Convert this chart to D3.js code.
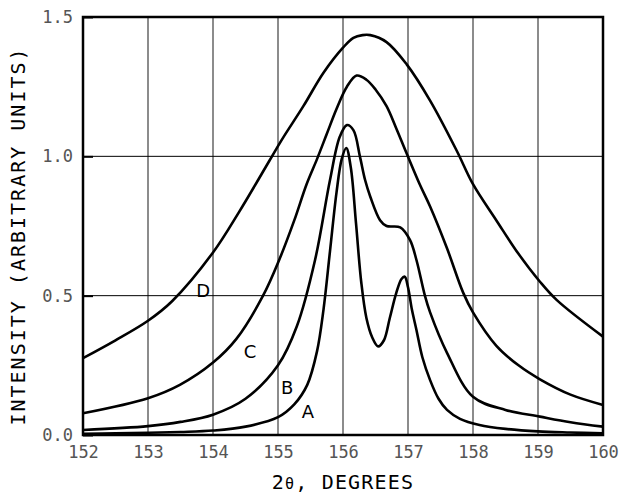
<!DOCTYPE html>
<html>
<head>
<meta charset="utf-8">
<script src="https://cdn.jsdelivr.net/npm/d3@7"></script>
<style>
  body { margin: 0; background: #fff; }
  svg { display: block; }
  .tick text { font-family: 'DejaVu Sans Mono', monospace; font-size: 17px; fill: #555; }
  .axis-title { font-family: 'DejaVu Sans Mono', monospace; font-size: 20px; fill: #000; }
  .curve-label { font-family: 'DejaVu Sans', sans-serif; font-size: 18px; fill: #000; }
</style>
</head>
<body>
<div id="chart"></div>
<script>
// 2-theta positions and intensities
const aX = [152, 152.5, 153, 153.5, 154, 154.5, 155, 155.25, 155.45, 155.6, 155.7, 155.8, 155.9, 155.98, 156.05, 156.12, 156.2, 156.28, 156.36, 156.45, 156.54, 156.63, 156.72, 156.82, 156.9, 156.95, 157.0, 157.06, 157.13, 157.22, 157.34, 157.47, 157.6, 157.8, 158.1, 158.5, 159, 159.5, 160];
const aY = [0.004, 0.006, 0.008, 0.011, 0.016, 0.03, 0.064, 0.11, 0.18, 0.3, 0.45, 0.66, 0.87, 0.99, 1.03, 0.96, 0.76, 0.55, 0.42, 0.35, 0.318, 0.34, 0.42, 0.51, 0.56, 0.568, 0.53, 0.45, 0.377, 0.28, 0.197, 0.13, 0.09, 0.058, 0.036, 0.022, 0.013, 0.009, 0.006];

const bX = [152, 153, 153.5, 154, 154.5, 155, 155.29, 155.57, 155.8, 155.95, 156.06, 156.16, 156.26, 156.34, 156.42, 156.57, 156.67, 156.88, 157.03, 157.13, 157.26, 157.34, 157.6, 158, 158.5, 159.03, 159.5, 160];
const bY = [0.018, 0.032, 0.047, 0.073, 0.13, 0.25, 0.39, 0.628, 0.915, 1.07, 1.112, 1.094, 1.0, 0.915, 0.855, 0.771, 0.75, 0.745, 0.7, 0.628, 0.5, 0.44, 0.295, 0.137, 0.09, 0.066, 0.046, 0.03];

const cX = [152, 153, 153.49, 154, 154.36, 154.77, 155.03, 155.25, 155.44, 155.6, 155.75, 155.9, 156.06, 156.21, 156.36, 156.5, 156.67, 156.82, 156.98, 157.18, 157.34, 157.6, 157.85, 158, 158.36, 158.7, 159.03, 159.5, 160];
const cY = [0.078, 0.132, 0.18, 0.26, 0.345, 0.5, 0.635, 0.77, 0.9, 0.99, 1.08, 1.17, 1.25, 1.29, 1.275, 1.24, 1.18, 1.1, 1.01, 0.9, 0.82, 0.67, 0.51, 0.44, 0.32, 0.25, 0.2, 0.145, 0.108];

const dX = [152, 152.5, 153, 153.37, 154, 154.4, 154.87, 155.06, 155.39, 155.7, 156.0, 156.16, 156.3, 156.42, 156.67, 156.98, 157.34, 157.75, 158.0, 158.36, 158.7, 159.03, 159.29, 160];
const dY = [0.276, 0.34, 0.41, 0.48, 0.655, 0.8, 0.985, 1.06, 1.18, 1.3, 1.39, 1.425, 1.435, 1.435, 1.41, 1.33, 1.2, 1.02, 0.9, 0.77, 0.65, 0.55, 0.484, 0.353];

const curveNames = ['A', 'B', 'C', 'D'];
const labelX = [155.46, 155.14, 154.57, 153.85];
const labelY = [0.083, 0.17, 0.3, 0.52];

const xTicks = [152, 153, 154, 155, 156, 157, 158, 159, 160];
const yTicks = [0, 0.5, 1.0, 1.5];

const width = 621;
const height = 495;

const xScale = d3.scaleLinear().domain([152, 160]).range([83, 603]);
const yScale = d3.scaleLinear().domain([0, 1.5]).range([435, 17]);

const svg = d3
  .select('#chart')
  .append('svg')
  .attr('width', width)
  .attr('height', height);

// vertical grid lines
svg
  .selectAll('line.vgrid')
  .data(xTicks.slice(1, -1))
  .join('line')
  .attr('class', 'vgrid')
  .attr('x1', (d) => xScale(d))
  .attr('x2', (d) => xScale(d))
  .attr('y1', yScale(0))
  .attr('y2', yScale(1.5))
  .attr('stroke', '#666')
  .attr('stroke-width', 1.5);

// horizontal grid lines
svg
  .selectAll('line.hgrid')
  .data(yTicks.slice(1, -1))
  .join('line')
  .attr('class', 'hgrid')
  .attr('x1', xScale(152))
  .attr('x2', xScale(160))
  .attr('y1', (d) => yScale(d))
  .attr('y2', (d) => yScale(d))
  .attr('stroke', '#000')
  .attr('stroke-width', 1);

// axes
const xAxis = d3
  .axisBottom(xScale)
  .tickValues(xTicks)
  .tickFormat(d3.format('d'))
  .tickSize(0)
  .tickPadding(11);
const yAxis = d3
  .axisLeft(yScale)
  .tickValues(yTicks)
  .tickFormat(d3.format('.1f'))
  .tickSize(-10)
  .tickPadding(10);

svg
  .append('g')
  .attr('class', 'x-axis')
  .attr('transform', `translate(0, ${yScale(0)})`)
  .call(xAxis)
  .call((g) => g.select('.domain').remove());
svg
  .append('g')
  .attr('class', 'y-axis')
  .attr('transform', `translate(${xScale(152)}, 0)`)
  .call(yAxis)
  .call((g) => g.select('.domain').remove())
  .call((g) => g.selectAll('.tick line').attr('stroke', '#000').attr('stroke-width', 2));

// curves
const series = [
  aX.map((x, i) => [x, aY[i]]),
  bX.map((x, i) => [x, bY[i]]),
  cX.map((x, i) => [x, cY[i]]),
  dX.map((x, i) => [x, dY[i]])
];

const line = d3
  .line()
  .x((d) => xScale(d[0]))
  .y((d) => yScale(d[1]))
  .curve(d3.curveCatmullRom.alpha(0.5));

svg
  .selectAll('path.curve')
  .data(series)
  .join('path')
  .attr('class', 'curve')
  .attr('d', line)
  .attr('fill', 'none')
  .attr('stroke', '#000')
  .attr('stroke-width', 2.6)
  .attr('stroke-linejoin', 'round');

// curve letters
svg
  .selectAll('text.curve-label')
  .data(curveNames)
  .join('text')
  .attr('class', 'curve-label')
  .attr('x', (d, i) => xScale(labelX[i]))
  .attr('y', (d, i) => yScale(labelY[i]))
  .attr('text-anchor', 'middle')
  .attr('dominant-baseline', 'central')
  .text((d) => d);

// frame
svg
  .append('rect')
  .attr('x', xScale(152))
  .attr('y', yScale(1.5))
  .attr('width', xScale(160) - xScale(152))
  .attr('height', yScale(0) - yScale(1.5))
  .attr('fill', 'none')
  .attr('stroke', '#000')
  .attr('stroke-width', 2.5);

// axis titles
const xTitle = svg
  .append('text')
  .attr('class', 'axis-title')
  .style('letter-spacing', '1.2px')
  .attr('x', (xScale(152) + xScale(160)) / 2)
  .attr('y', 489)
  .attr('text-anchor', 'middle');
xTitle.append('tspan').text('2');
xTitle.append('tspan').style('font-size', '15px').text('θ');
xTitle.append('tspan').text(', DEGREES');

svg
  .append('text')
  .attr('class', 'axis-title')
  .style('letter-spacing', '2px')
  .attr('transform', `translate(25, 236) rotate(-90)`)
  .attr('text-anchor', 'middle')
  .text('INTENSITY (ARBITRARY UNITS)');
</script>
</body>
</html>
